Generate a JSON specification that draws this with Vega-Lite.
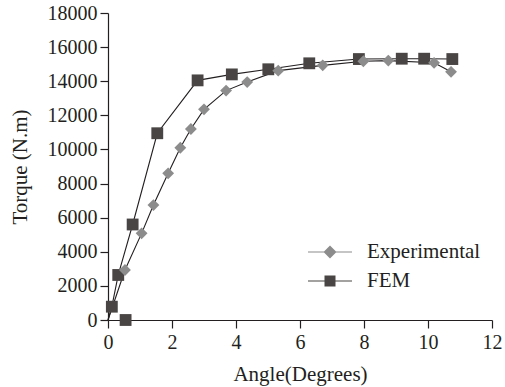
{
  "$schema": "https://vega.github.io/schema/vega-lite/v6.json",
  "width": 384,
  "height": 307,
  "autosize": "none",
  "padding": {"left": 108, "top": 13, "right": 13, "bottom": 67},
  "background": "white",
  "config": {
    "view": {"stroke": null},
    "font": "Liberation Serif",
    "axis": {
      "grid": false,
      "domainColor": "#231f20",
      "tickColor": "#231f20",
      "domainWidth": 1.2,
      "tickWidth": 1.2,
      "tickSize": 8,
      "labelFont": "Liberation Serif",
      "labelFontSize": 20,
      "labelColor": "#231f20",
      "titleFont": "Liberation Serif",
      "titleFontSize": 21,
      "titleFontWeight": "normal",
      "titleColor": "#231f20"
    },
    "legend": {
      "title": null,
      "orient": "none",
      "padding": 0,
      "symbolSize": 484,
      "labelOffset": 25,
      "labelFont": "Liberation Serif",
      "labelFontSize": 21,
      "labelColor": "#231f20",
      "labelLimit": 0
    }
  },
  "data": {
    "values": [
      {"series": "FEM", "angle": 0, "torque": 0, "role": "line"},
      {"series": "FEM", "angle": 0.55, "torque": 0, "role": "marker"},
      {"series": "FEM", "angle": 0.12, "torque": 780, "role": "both"},
      {"series": "FEM", "angle": 0.32, "torque": 2640, "role": "both"},
      {"series": "FEM", "angle": 0.77, "torque": 5600, "role": "both"},
      {"series": "FEM", "angle": 1.54, "torque": 10950, "role": "both"},
      {"series": "FEM", "angle": 2.8, "torque": 14050, "role": "both"},
      {"series": "FEM", "angle": 3.87, "torque": 14400, "role": "both"},
      {"series": "FEM", "angle": 5.01, "torque": 14700, "role": "both"},
      {"series": "FEM", "angle": 6.29, "torque": 15050, "role": "both"},
      {"series": "FEM", "angle": 7.84, "torque": 15300, "role": "both"},
      {"series": "FEM", "angle": 9.18, "torque": 15320, "role": "both"},
      {"series": "FEM", "angle": 9.88, "torque": 15320, "role": "both"},
      {"series": "FEM", "angle": 10.76, "torque": 15300, "role": "both"},
      {"series": "Experimental", "angle": 0, "torque": 0, "role": "line"},
      {"series": "Experimental", "angle": 0.53, "torque": 2930, "role": "both"},
      {"series": "Experimental", "angle": 1.05, "torque": 5080, "role": "both"},
      {"series": "Experimental", "angle": 1.42, "torque": 6740, "role": "both"},
      {"series": "Experimental", "angle": 1.88, "torque": 8600, "role": "both"},
      {"series": "Experimental", "angle": 2.26, "torque": 10100, "role": "both"},
      {"series": "Experimental", "angle": 2.59, "torque": 11200, "role": "both"},
      {"series": "Experimental", "angle": 3.0, "torque": 12350, "role": "both"},
      {"series": "Experimental", "angle": 3.69, "torque": 13450, "role": "both"},
      {"series": "Experimental", "angle": 4.35, "torque": 13950, "role": "both"},
      {"series": "Experimental", "angle": 5.32, "torque": 14620, "role": "both"},
      {"series": "Experimental", "angle": 6.71, "torque": 14930, "role": "both"},
      {"series": "Experimental", "angle": 7.98, "torque": 15170, "role": "both"},
      {"series": "Experimental", "angle": 8.76, "torque": 15210, "role": "both"},
      {"series": "Experimental", "angle": 10.19, "torque": 15080, "role": "both"},
      {"series": "Experimental", "angle": 10.72, "torque": 14550, "role": "both"}
    ]
  },
  "encoding": {
    "x": {
      "field": "angle",
      "type": "quantitative",
      "title": "Angle(Degrees)",
      "scale": {"domain": [0, 12], "nice": false},
      "axis": {"values": [0, 2, 4, 6, 8, 10, 12], "labelPadding": 4, "titlePadding": 11, "labelFlush": false}
    },
    "y": {
      "field": "torque",
      "type": "quantitative",
      "title": "Torque (N.m)",
      "scale": {"domain": [0, 18000], "nice": false},
      "axis": {"values": [0, 2000, 4000, 6000, 8000, 10000, 12000, 14000, 16000, 18000], "format": "d", "labelPadding": 3, "titlePadding": 17, "labelFlush": false}
    }
  },
  "layer": [
    {
      "transform": [{"filter": "datum.role != 'marker'"}],
      "mark": {"type": "line", "color": "#231f20", "strokeWidth": 1.1},
      "encoding": {"detail": {"field": "series"}}
    },
    {
      "transform": [{"filter": "datum.role != 'line'"}],
      "mark": {"type": "point", "filled": true, "opacity": 1, "size": 140},
      "encoding": {
        "shape": {
          "field": "series",
          "type": "nominal",
          "scale": {"domain": ["Experimental", "FEM"], "range": ["diamond", "square"]},
          "legend": null
        },
        "color": {
          "field": "series",
          "type": "nominal",
          "scale": {"domain": ["Experimental", "FEM"], "range": ["#8c8c8c", "#4a4545"]},
          "legend": null
        }
      }
    },
    {
      "transform": [{"filter": "datum.role == 'both' && datum.series == 'Experimental'"}],
      "mark": {"type": "point", "filled": true, "size": 0, "opacity": 1, "fill": "#8c8c8c"},
      "encoding": {
        "shape": {
          "field": "series",
          "type": "nominal",
          "scale": {
            "domain": ["Experimental"],
            "range": ["M-2,-0.05H2V0.05H-2ZM0,-0.59L0.59,0L0,0.59L-0.59,0Z"]
          },
          "legend": {"legendX": 210, "legendY": 227, "symbolFillColor": "#8c8c8c"}
        }
      }
    },
    {
      "transform": [{"filter": "datum.role == 'both' && datum.series == 'FEM'"}],
      "mark": {"type": "point", "filled": true, "size": 0, "opacity": 1, "fill": "#4a4545"},
      "encoding": {
        "shape": {
          "field": "series",
          "type": "nominal",
          "scale": {
            "domain": ["FEM"],
            "range": ["M-2,-0.05H2V0.05H-2ZM-0.5,-0.5H0.5V0.5H-0.5Z"]
          },
          "legend": {"legendX": 210, "legendY": 256, "symbolFillColor": "#4a4545"}
        }
      }
    }
  ],
  "resolve": {"scale": {"shape": "independent"}, "legend": {"shape": "independent"}}
}
